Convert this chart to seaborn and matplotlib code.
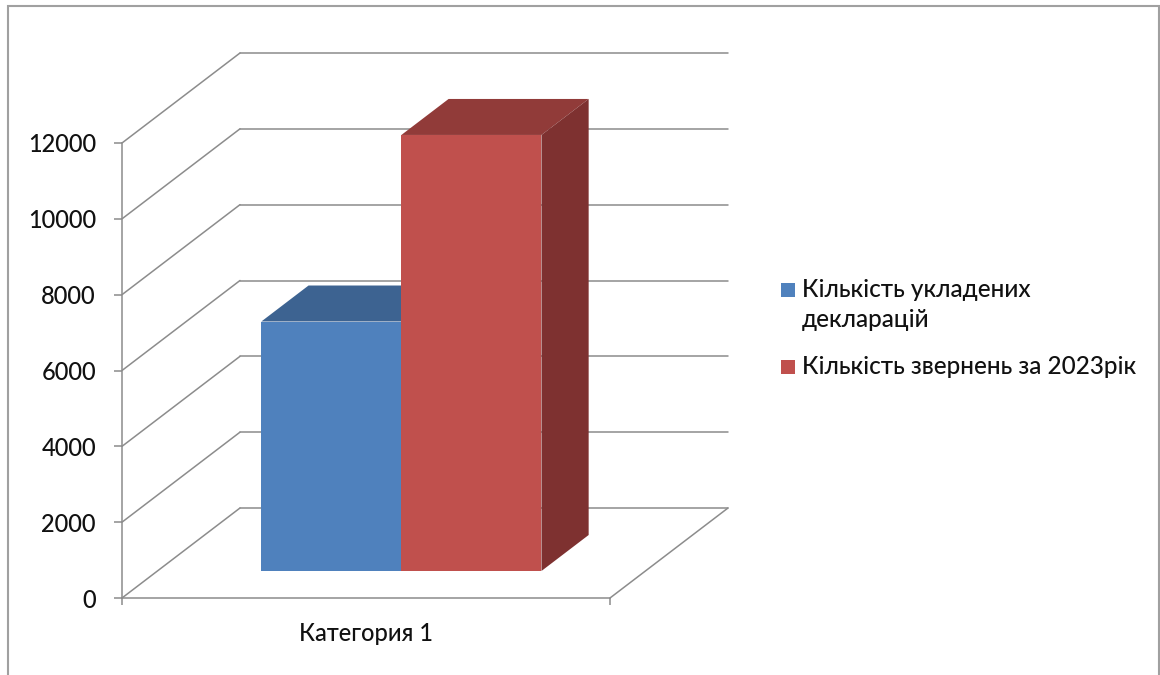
import pandas as pd
import seaborn as sns
import matplotlib.pyplot as plt
from matplotlib.patches import Polygon, Rectangle

# chart data
categories = ['Категория 1']
series = ['Кількість укладених декларацій', 'Кількість звернень за 2023рік']
legend_labels = ['Кількість укладених\nдекларацій', 'Кількість звернень за 2023рік']
values = [6580, 11500]
y_ticks = [0, 2000, 4000, 6000, 8000, 10000, 12000]

front_colors = ['#4F81BD', '#C0504D']
top_colors = ['#3D6391', '#913B39']
side_colors = ['#345780', '#7E3130']
grid_color = '#8c8c8c'
text_color = '#111111'

df = pd.DataFrame({'category': categories * len(series), 'series': series, 'value': values})

sns.set_theme(style='white')
plt.rcParams['font.family'] = ['Lato', 'DejaVu Sans']
plt.rcParams['font.weight'] = 'medium'

W, H = 1160, 675
fig = plt.figure(figsize=(W / 100, H / 100), dpi=100)
ax = fig.add_axes([122 / W, 77 / H, 488 / W, 455 / H])

sns.barplot(data=df, x='category', y='value', hue='series', palette=front_colors,
            saturation=1, width=0.574, legend=False, ax=ax)

# oblique depth of the 3d box (in data units)
DX = 118 / 488 * 1.0
DY = 90 / 455 * 12000

# back wall, left wall and floor lines
line_kw = dict(color=grid_color, lw=1.1, clip_on=False, zorder=1)
for v in y_ticks:
    ax.plot([-0.5 + DX, 0.5 + DX], [v + DY, v + DY], **line_kw)
    ax.plot([-0.5, -0.5 + DX], [v, v + DY], **line_kw)
ax.plot([0.5, 0.5 + DX], [0, DY], **line_kw)

# bars: shift front faces back a bit, add top and side faces
bar_f, bar_d = 0.3, 0.4
ddx, ddy = bar_d * DX, bar_d * DY
bars = list(ax.patches)
for i, p in enumerate(bars):
    p.set_x(p.get_x() + bar_f * DX)
    p.set_y(p.get_y() + bar_f * DY)
    p.set_zorder(3 + i)
    p.set_clip_on(False)
    p.set_linewidth(0)
    x0 = p.get_x()
    x1 = x0 + p.get_width()
    y0 = p.get_y()
    y1 = y0 + p.get_height()
    top = Polygon([(x0, y1), (x1, y1), (x1 + ddx, y1 + ddy), (x0 + ddx, y1 + ddy)],
                  closed=True, fc=top_colors[i], ec='none', zorder=3 + i, clip_on=False)
    side = Polygon([(x1, y0), (x1 + ddx, y0 + ddy), (x1 + ddx, y1 + ddy), (x1, y1)],
                   closed=True, fc=side_colors[i], ec='none', zorder=3 + i, clip_on=False)
    ax.add_patch(top)
    ax.add_patch(side)

ax.set_xlim(-0.5, 0.5)
ax.set_ylim(0, 12000)

# axes styling
sns.despine(ax=ax)
for s in ['left', 'bottom']:
    ax.spines[s].set_color(grid_color)
    ax.spines[s].set_linewidth(1.1)
ax.set_yticks(y_ticks)
ax.tick_params(axis='y', direction='out', left=True, length=5.8, width=1.1,
               color=grid_color, pad=13, labelsize=17, labelcolor=text_color)
ax.set_xticks([0])
ax.set_xticklabels(categories)
ax.set_xticks([-0.5, 0.5], minor=True)
ax.tick_params(axis='x', which='major', length=0, pad=17, labelsize=17, labelcolor=text_color)
ax.tick_params(axis='x', which='minor', bottom=True, direction='out', length=5,
               width=1.1, color=grid_color)
ax.set_xlabel('')
ax.set_ylabel('')

# legend
legend_baselines = [297, 374]
for i, lab in enumerate(legend_labels):
    yb = legend_baselines[i]
    fig.patches.append(Rectangle((781 / W, 1 - yb / H), 14 / W, 14 / H,
                                 transform=fig.transFigure, fc=front_colors[i], ec='none'))
    for k, line in enumerate(lab.split('\n')):
        fig.text(802 / W, 1 - (yb + 30 * k) / H, line, fontsize=17.5,
                 color=text_color, va='baseline', ha='left')

# outer border
fig.patches.append(Rectangle((7.5 / W, -0.05), (1159 - 7.5) / W, 1.05 - 6 / H,
                             transform=fig.transFigure, fc='none', ec='#a0a0a0', lw=1.5))

fig.savefig('out.png', dpi=100)
